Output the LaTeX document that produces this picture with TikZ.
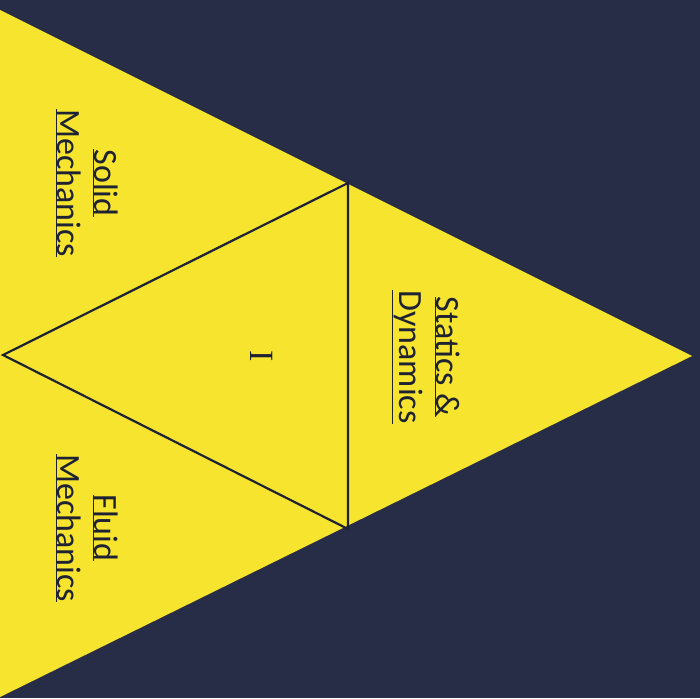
\documentclass[tikz,border=0pt]{standalone}
\usepackage{fontspec}
\setmainfont{Carlito}
\newfontfamily\serifI{Liberation Serif}
\definecolor{navybg}{HTML}{282D47}
\definecolor{tyellow}{HTML}{F6E42E}
\definecolor{inkdark}{HTML}{1E2233}
\begin{document}
\begin{tikzpicture}[x=1pt,y=-1pt,
  lbl/.style={rotate=-90,align=center,text=inkdark,font=\fontsize{34}{37}\selectfont},
  edge/.style={draw=inkdark,line width=2.2pt}]
\fill[navybg] (0,0) rectangle (700,698);
\useasboundingbox (0,0) rectangle (700,698);
\coordinate (A) at (0,10);
\coordinate (B) at (0,697);
\coordinate (C) at (692,356);
\coordinate (M) at (3,355);
\coordinate (P) at (348,183);
\coordinate (Q) at (348,529);
\fill[tyellow] (A) -- (C) -- (B) -- cycle;
\draw[edge] (M) -- (P) -- (Q) -- cycle;
\node[lbl] (solid) at (87,183) {\underline{Solid}\\\underline{Mechanics}};
\node[lbl] (fluid) at (87,528) {\underline{Fluid}\\\underline{Mechanics}};
\node[lbl] (stat) at (426,357) {\underline{Statics \&}\\\underline{Dynamics}};
\node[rotate=-90,text=inkdark,font=\fontsize{34}{38}\serifI] (mid) at (262,356) {I};
\end{tikzpicture}
\end{document}
